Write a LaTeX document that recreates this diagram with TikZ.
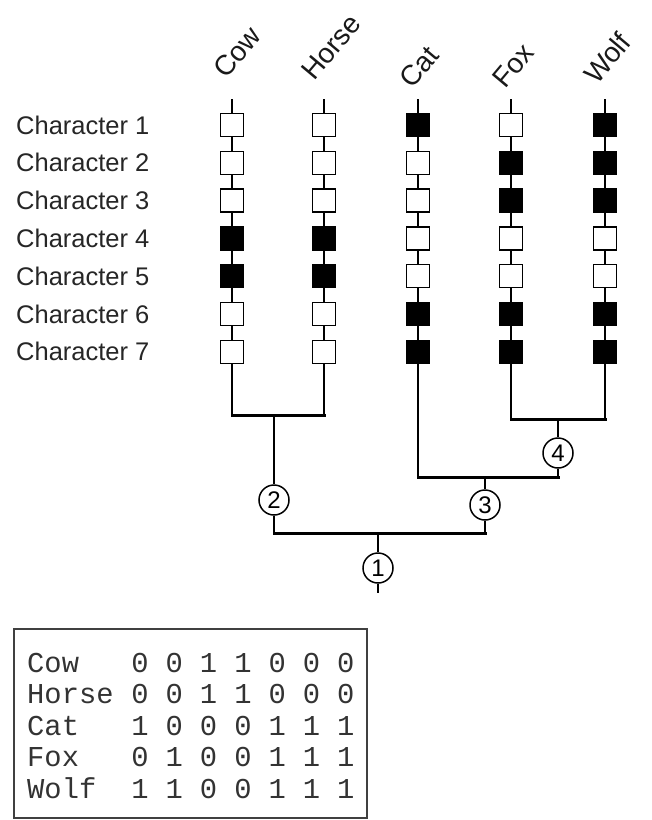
\documentclass[tikz,border=0pt]{standalone}
\usepackage{fontspec}
\setmainfont{Liberation Sans}
\setmonofont{Liberation Mono}
\begin{document}
\begin{tikzpicture}[x=1pt,y=-1pt,
  chbox/.style={draw,line width=1.5pt,minimum size=23pt,inner sep=0pt},
  on/.style={chbox,fill=black},
  off/.style={chbox,fill=white},
  stem/.style={line width=2.2pt},
  bar/.style={line width=3pt,line cap=rect},
  knot/.style={circle,draw,line width=1.5pt,fill=white,minimum size=30pt,inner sep=0pt,font=\fontsize{24}{26}\selectfont},
  charlbl/.style={anchor=west,inner sep=0pt,font=\fontsize{25.5}{28}\selectfont,text=black!85},
  taxon/.style={anchor=base west,inner sep=0pt,rotate=50,font=\fontsize{28}{30}\selectfont,text=black!90},
  tab/.style={inner sep=0pt,font=\ttfamily\fontsize{28.8}{30}\selectfont,text=black!80}
]
\useasboundingbox (0,0) rectangle (652,820);

% character labels
\foreach \i in {1,...,7}{
  \node[charlbl] (lbl\i) at (16,{125+37.8*(\i-1)}) {Character \i};
}

% columns: name / x / pattern
\foreach \nm/\cx/\pat in {cow/232/{0,0,0,1,1,0,0},horse/324/{0,0,0,1,1,0,0},cat/418/{1,0,0,0,0,1,1},fox/511/{0,1,1,0,0,1,1},wolf/605/{1,1,1,0,0,1,1}}{
  \coordinate (\nm top) at (\cx,99);
  \foreach \v [count=\i] in \pat {
    \ifnum\v=1
      \node[on] (\nm\i) at (\cx,{125+37.8*(\i-1)}) {};
    \else
      \node[off] (\nm\i) at (\cx,{125+37.8*(\i-1)}) {};
    \fi
  }
  \draw[stem] (\nm top) -- (\nm1);
  \foreach \i [evaluate=\i as \j using int(\i+1)] in {1,...,6}{
    \draw[stem] (\nm\i) -- (\nm\j);
  }
}

% taxon labels
\node[taxon] (tcow) at (226,80) {Cow};
\node[taxon] (thorse) at (314,82) {Horse};
\node[taxon] (tcat) at (412,90) {Cat};
\node[taxon] (tfox) at (505,90) {Fox};
\node[taxon] (twolf) at (597,86) {Wolf};

% tree coordinates
\coordinate (cowB) at (232,415);
\coordinate (horseB) at (324,415);
\coordinate (j2) at (274,415);
\coordinate (catB) at (418,477);
\coordinate (j3R) at (558,477);
\coordinate (j3) at (485,477);
\coordinate (foxB) at (511,419);
\coordinate (wolfB) at (605,419);
\coordinate (j4) at (558,419);
\coordinate (b1L) at (274,533);
\coordinate (b1R) at (485,533);
\coordinate (j1) at (378,533);
\coordinate (root) at (378,593);

\node[knot] (n2) at (274,500) {2};
\node[knot] (n3) at (485,505) {3};
\node[knot] (n4) at (558,453) {4};
\node[knot] (n1) at (378,568) {1};

% column bottoms
\draw[stem] (cow7) -- (cowB);
\draw[stem] (horse7) -- (horseB);
\draw[stem] (cat7) -- (catB);
\draw[stem] (fox7) -- (foxB);
\draw[stem] (wolf7) -- (wolfB);

% bars
\draw[bar] (cowB) -- (horseB);
\draw[bar] (foxB) -- (wolfB);
\draw[bar] (catB) -- (j3R);
\draw[bar] (b1L) -- (b1R);

% connectors
\draw[line width=1.8pt] (j2) -- (n2);
\draw[line width=2.5pt] (n2) -- (b1L);
\draw[line width=2.5pt] (j4) -- (n4);
\draw[line width=2.5pt] (n4) -- (j3R);
\draw[line width=2.5pt] (j3) -- (n3);
\draw[line width=2.5pt] (n3) -- (b1R);
\draw[line width=2.5pt] (j1) -- (n1);
\draw[line width=2pt] (n1) -- (root);

% data table
\draw[line width=1.2pt,draw=black!75] (14,629) rectangle (367,818);
\foreach \nm/\yb/\vals [count=\r] in {Cow/672/{0,0,1,1,0,0,0},Horse/703.5/{0,0,1,1,0,0,0},Cat/735/{1,0,0,0,1,1,1},Fox/766.5/{0,1,0,0,1,1,1},Wolf/798/{1,1,0,0,1,1,1}}{
  \node[tab,anchor=base west] (row\r) at (27,\yb) {\nm};
  \foreach \d [count=\k] in \vals {
    \node[tab,anchor=base] (cell\r-\k) at ({140+34.3*(\k-1)},\yb) {\d};
  }
}
\end{tikzpicture}
\end{document}
